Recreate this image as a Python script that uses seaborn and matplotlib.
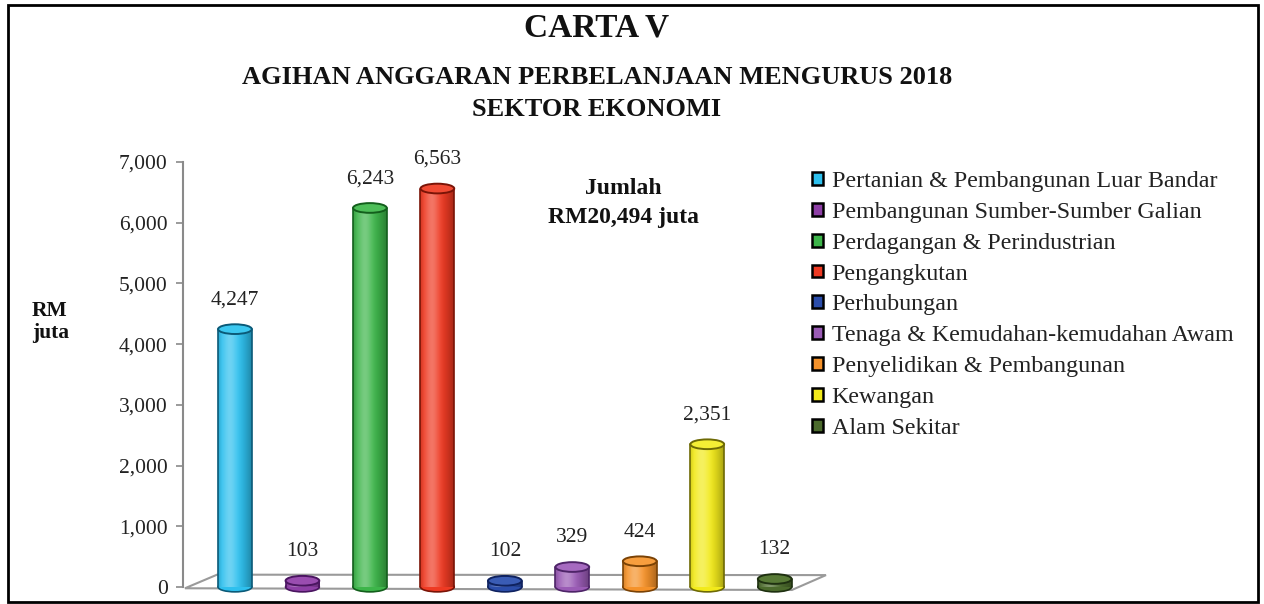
import numpy as np
import pandas as pd
import matplotlib
matplotlib.use("Agg")
import matplotlib.pyplot as plt
import seaborn as sns
from matplotlib.patches import Ellipse, Polygon, Rectangle, Patch
from matplotlib.ticker import FuncFormatter
from matplotlib.colors import to_rgb

sectors = [
    "Pertanian & Pembangunan Luar Bandar",
    "Pembangunan Sumber-Sumber Galian",
    "Perdagangan & Perindustrian",
    "Pengangkutan",
    "Perhubungan",
    "Tenaga & Kemudahan-kemudahan Awam",
    "Penyelidikan & Pembangunan",
    "Kewangan",
    "Alam Sekitar",
]
values = [4247, 103, 6243, 6563, 102, 329, 424, 2351, 132]
value_labels = ["4,247", "103", "6,243", "6,563", "102", "329", "424", "2,351", "132"]
colors = ["#2EC0EE", "#8E3FA6", "#3DB54A", "#EE3A23", "#2B4DAA",
          "#9A5BB5", "#F5922A", "#F2EA1B", "#4B6A2C"]
top_colors = ["#3CC8F0", "#9A4DB0", "#4DBE58", "#F04A33", "#3A5CB5",
              "#A66AC0", "#F79E3E", "#F4EE35", "#587A36"]
edge_colors = ["#0B5A78", "#4A1560", "#135F1C", "#7A1407", "#0F225F",
               "#4E2468", "#7A4205", "#6E6A05", "#1E3010"]
yticks = [0, 1000, 2000, 3000, 4000, 5000, 6000, 7000]

sns.set_theme(style="white")
plt.rcParams["font.family"] = ["Liberation Serif", "DejaVu Serif"]

fig = plt.figure(figsize=(12.64, 6.04), dpi=100)
ax = fig.add_axes([183 / 1264, 1 - 587 / 604, 643 / 1264, 425 / 604])

df = pd.DataFrame({"sector": sectors, "value": values})
sns.barplot(data=df, x="sector", y="value", hue="sector", palette=colors,
            dodge=False, width=0.5, legend=False, ax=ax, linewidth=0,
            saturation=1, zorder=3)

XL = (-0.77, 8.76)
YL = (0, 7000)

# floor (3D base)
floor = Polygon([(0.003, -0.003), (0.053, 0.029), (1.0, 0.028), (0.947, -0.007)],
                closed=True, transform=ax.transAxes, facecolor="white",
                edgecolor="#9a9a9a", linewidth=1.5, clip_on=False, zorder=1)
ax.add_patch(floor)

# cylinder shading profile across the bar width
t = np.linspace(0, 1, 80)
light = 0.30 * np.exp(-((t - 0.35) / 0.22) ** 2)
dark = 0.30 * np.clip((t - 0.55) / 0.45, 0, 1) ** 1.5 + 0.12 * np.clip((0.12 - t) / 0.12, 0, 1)

eh = 160  # ellipse height in data units
for cont, c, tc, ec, lab in zip(ax.containers, colors, top_colors, edge_colors, value_labels):
    for p in cont:
        x0 = p.get_x()
        w = p.get_width()
        h = p.get_height()
        xc = x0 + w / 2
        p.set_zorder(3)
        base = np.array(to_rgb(c))
        grad = base[None, :] * (1 - light[:, None]) + light[:, None]
        grad = grad * (1 - dark[:, None])
        img = ax.imshow(grad[None, :, :], extent=[x0, x0 + w, 0, h], aspect="auto",
                        zorder=3.5, interpolation="bilinear")
        img.set_clip_path(p)
        bot = Ellipse((xc, 0), w, eh, facecolor=c, edgecolor=ec, linewidth=1.2,
                      zorder=2, clip_on=False)
        ax.add_patch(bot)
        ax.plot([x0, x0], [0, h], color=ec, linewidth=1.2, zorder=4, clip_on=False)
        ax.plot([x0 + w, x0 + w], [0, h], color=ec, linewidth=1.2, zorder=4, clip_on=False)
        top = Ellipse((xc, h), w, eh, facecolor=tc, edgecolor=ec, linewidth=1.4,
                      zorder=5, clip_on=False)
        ax.add_patch(top)
        ax.annotate(lab, (xc, h), xytext=(0, 21), textcoords="offset points",
                    ha="center", va="center", fontsize=15.5, color="#222222")

ax.set_xlim(*XL)
ax.set_ylim(*YL)
ax.set_yticks(yticks)
ax.yaxis.set_major_formatter(FuncFormatter(lambda v, _: f"{int(v):,}"))
ax.tick_params(axis="y", which="major", left=True, length=5, width=1.2,
               color="#8a8a8a", labelsize=15.5, labelcolor="#222222", pad=6)
ax.set_xticks([])
ax.set_xlabel("")
ax.set_ylabel("")
for s in ["top", "right", "bottom"]:
    ax.spines[s].set_visible(False)
ax.spines["left"].set_color("#8a8a8a")
ax.spines["left"].set_linewidth(1.5)
ax.patch.set_alpha(0)

# titles
fig.text(597 / 1264, 1 - 28 / 604, "CARTA V", ha="center", va="center",
         fontsize=24, fontweight="bold", color="#111111")
fig.text(597 / 1264, 1 - 77 / 604, "AGIHAN ANGGARAN PERBELANJAAN MENGURUS 2018",
         ha="center", va="center", fontsize=19, fontweight="bold", color="#111111")
fig.text(597 / 1264, 1 - 109 / 604, "SEKTOR EKONOMI",
         ha="center", va="center", fontsize=19, fontweight="bold", color="#111111")

fig.text(623 / 1264, 1 - 188 / 604, "Jumlah", ha="center", va="center",
         fontsize=17, fontweight="bold", color="#111111")
fig.text(623 / 1264, 1 - 217 / 604, "RM20,494 juta", ha="center", va="center",
         fontsize=17, fontweight="bold", color="#111111")

fig.text(32 / 1264, 1 - 311 / 604, "RM", ha="left", va="center",
         fontsize=15.5, fontweight="bold", color="#111111")
fig.text(32 / 1264, 1 - 333 / 604, "juta", ha="left", va="center",
         fontsize=15.5, fontweight="bold", color="#111111")

handles = [Patch(facecolor=c, edgecolor="black", linewidth=1.8) for c in colors]
fig.legend(handles, sectors, loc="upper left", bbox_to_anchor=(812 / 1264, 1 - 171 / 604),
           frameon=False, fontsize=17.3, handlelength=0.44, handleheight=0.44,
           handletextpad=0.38, labelspacing=0.41, borderpad=0, borderaxespad=0,
           labelcolor="#222222")

fig.add_artist(Rectangle((8 / 1264, 2 / 604), 1250 / 1264, 597 / 604,
                         transform=fig.transFigure, fill=False,
                         edgecolor="black", linewidth=2))

fig.savefig("out.png", dpi=100)
